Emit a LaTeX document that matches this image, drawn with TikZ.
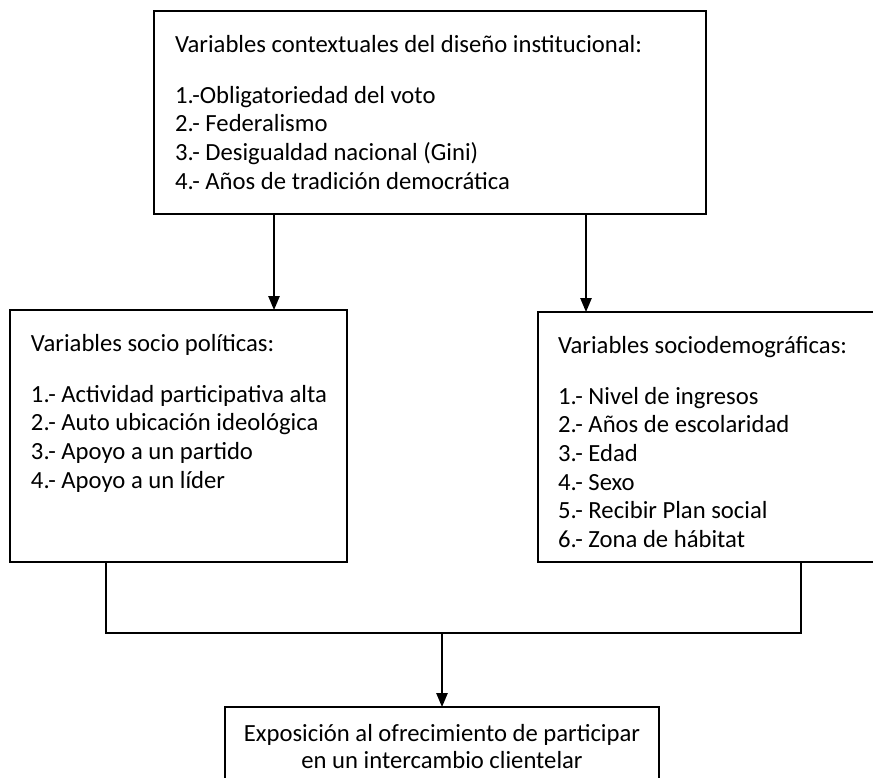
\documentclass[tikz,border=0pt]{standalone}
\usepackage{fontspec}
\setmainfont{Carlito}
\usepackage{tikz}
\usetikzlibrary{arrows.meta}
\tikzset{box/.style={draw=black, line width=1.2pt, inner sep=0pt, outer sep=0pt, anchor=north west},
txt/.style={inner sep=0pt, outer sep=0pt, anchor=north west, align=left, font=\fontsize{18.5}{21.5}\selectfont},
link/.style={draw=black, line width=1.2pt},
%filled triangle head like the word drawing
arr/.style={link, -{Triangle[length=10.5pt, width=8.5pt]}}}

\begin{document}
\begin{tikzpicture}[x=0.75pt, y=-0.75pt]
\useasboundingbox (0,0) rectangle (873,777);
\clip (0,0) rectangle (873,777);

% boxes
\node[box, minimum width=414pt, minimum height=152.25pt] (ctx) at (154,11) {};
\node[box, minimum width=252.75pt, minimum height=189pt] (sp) at (10,310) {};
\node[box, minimum width=262pt, minimum height=187.5pt] (sd) at (538,312) {};
\node[box, minimum width=325.5pt, minimum height=66pt] (exp) at (225,707) {};

% texts
\node[txt] (ctxtext) at (175,35) {Variables contextuales del diseño institucional:\\[16.75pt]
1.-Obligatoriedad del voto\\
2.- Federalismo\\
3.- Desigualdad nacional (Gini)\\
4.- Años de tradición democrática};
\node[txt] (sptext) at (31,334) {Variables socio políticas:\\[16.75pt]
1.- Actividad participativa alta\\
2.- Auto ubicación ideológica\\
3.- Apoyo a un partido\\
4.- Apoyo a un líder};
\node[txt] (sdtext) at (558,336) {Variables sociodemográficas:\\[16.75pt]
1.- Nivel de ingresos\\
2.- Años de escolaridad\\
3.- Edad\\
4.- Sexo\\
5.- Recibir Plan social\\
6.- Zona de hábitat};
\node[txt, anchor=north, align=center] (exptext) at (exp.north |- 0,724) {Exposición al ofrecimiento de participar\\[-1.25pt]
en un intercambio clientelar};

%arrows
\coordinate (a1) at (274,0);
\coordinate (a2) at (586,0);
\draw[arr] (ctx.south -| a1) -- (sp.north -| a1);
\draw[arr] (ctx.south -| a2) -- (sd.north -| a2);

% joining lines
\coordinate (j1) at (106,633);
\coordinate (j2) at (801,633);
\draw[link] (sp.south -| j1) -- (j1) -- (j2) -- (sd.south -| j2);
\draw[arr] (j1 -| exp.north) -- (exp.north);

\end{tikzpicture}
\end{document}
